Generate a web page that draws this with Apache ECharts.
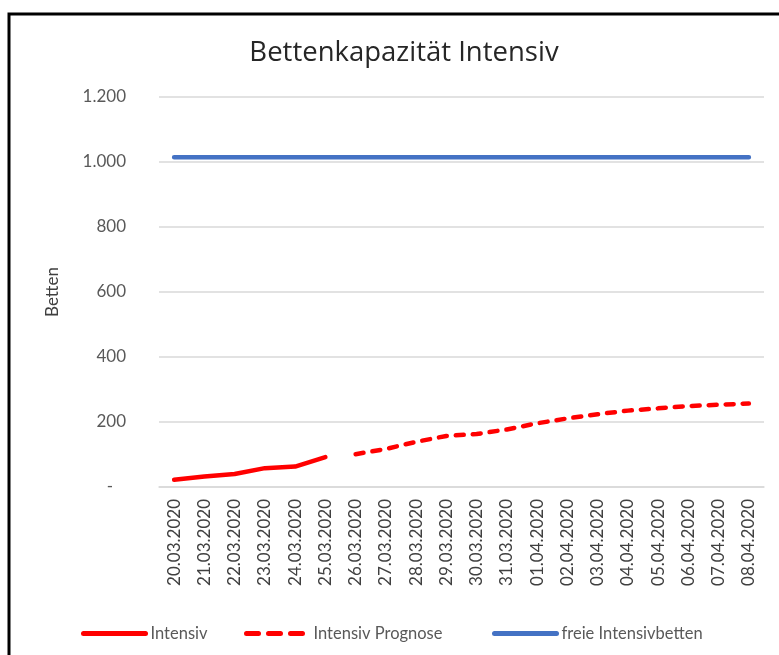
<!DOCTYPE html>
<html>
<head>
<meta charset="utf-8">
<script src="https://cdn.jsdelivr.net/npm/echarts@6/dist/echarts.min.js"></script>
<style>
html,body{margin:0;padding:0;background:#fff;}
#chart{width:779px;height:655px;}
</style>
</head>
<body>
<div id="chart"></div>
<script>
const categories = ["20.03.2020","21.03.2020","22.03.2020","23.03.2020","24.03.2020","25.03.2020","26.03.2020","27.03.2020","28.03.2020","29.03.2020","30.03.2020","31.03.2020","01.04.2020","02.04.2020","03.04.2020","04.04.2020","05.04.2020","06.04.2020","07.04.2020","08.04.2020"];
const intensiv = [22, 32, 40, 58, 63, 92, null, null, null, null, null, null, null, null, null, null, null, null, null, null];
const intensivPrognose = [null, null, null, null, null, null, 101, 117, 139, 157, 163, 177, 196, 211, 224, 235, 242, 249, 253, 257];
const freieBetten = [1015, 1015, 1015, 1015, 1015, 1015, 1015, 1015, 1015, 1015, 1015, 1015, 1015, 1015, 1015, 1015, 1015, 1015, 1015, 1015];
const yTicks = { min: 0, max: 1200, interval: 200 };

const FONT = 'Lato';
const chart = echarts.init(document.getElementById('chart'), null, { renderer: 'canvas' });
function fmt(v) {
  if (v === 0) return '-   ';
  return String(v).replace(/\B(?=(\d{3})+(?!\d))/g, '.');
}
const legendText = { fontFamily: FONT, fontSize: 16.5, color: '#595959' };
function legendFor(name, left, dash) {
  return {
    data: [name], left: left, top: 620, itemWidth: 62, itemHeight: 16,
    textStyle: legendText,
    itemStyle: { color: 'rgba(0,0,0,0)', borderWidth: 0, opacity: 0 },
    lineStyle: { width: 5, cap: 'round', type: dash ? [12, 10] : 'solid' }
  };
}
chart.setOption({
  animation: false,
  backgroundColor: '#fff',
  graphic: [{
    type: 'rect',
    shape: { x: 9, y: 14, width: 820, height: 700 },
    style: { fill: 'none', stroke: '#000', lineWidth: 3 },
    silent: true
  }],
  title: {
    text: 'Bettenkapazität Intensiv',
    left: 399, textAlign: 'center', top: 34,
    textStyle: { fontFamily: 'Open Sans', fontSize: 27.5, fontWeight: 'normal', color: '#262626' }
  },
  legend: [
    legendFor('Intensiv', 76, false),
    legendFor('Intensiv Prognose', 239, true),
    legendFor('freie Intensivbetten', 487, false)
  ],
  grid: { left: 159, right: 15, top: 97, bottom: 168 },
  xAxis: {
    type: 'category',
    data: categories,
    boundaryGap: true,
    axisLine: { lineStyle: { color: '#d9d9d9', width: 1.5 } },
    axisTick: { show: false },
    axisLabel: { rotate: 90, margin: 12, interval: 0, fontFamily: FONT, fontSize: 17, color: '#404040' }
  },
  yAxis: {
    type: 'value',
    min: yTicks.min, max: yTicks.max, interval: yTicks.interval,
    name: 'Betten',
    nameLocation: 'middle',
    nameGap: 98,
    nameTextStyle: { fontFamily: FONT, fontSize: 17, color: '#404040' },
    axisLine: { show: false },
    axisTick: { show: false },
    splitLine: { lineStyle: { color: '#d9d9d9', width: 1.5 } },
    axisLabel: { margin: 33, fontFamily: FONT, fontSize: 17, color: '#595959', formatter: fmt }
  },
  series: [
    {
      name: 'Intensiv', type: 'line', data: intensiv, symbol: 'none', connectNulls: false,
      lineStyle: { color: '#ff0000', width: 4.5, cap: 'round', join: 'round' },
      itemStyle: { color: '#ff0000' }
    },
    {
      name: 'Intensiv Prognose', type: 'line', data: intensivPrognose, symbol: 'none', connectNulls: false,
      lineStyle: { color: '#ff0000', width: 4.5, type: [8, 9], cap: 'round', join: 'round' },
      itemStyle: { color: '#ff0000' }
    },
    {
      name: 'freie Intensivbetten', type: 'line', data: freieBetten, symbol: 'none',
      lineStyle: { color: '#4472c4', width: 4.5, cap: 'round' },
      itemStyle: { color: '#4472c4' }
    }
  ]
});
</script>
</body>
</html>
